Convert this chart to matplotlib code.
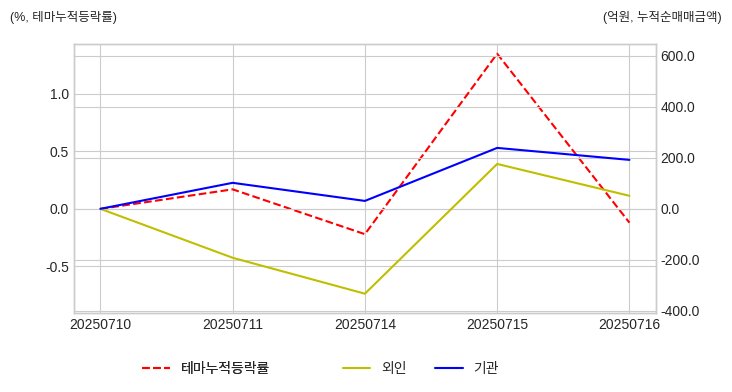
import matplotlib
matplotlib.use('Agg')
import matplotlib.pyplot as plt
from matplotlib.ticker import FormatStrFormatter

dates = ['20250710', '20250711', '20250714', '20250715', '20250716']
theme_ret = [0.0, 0.17, -0.22, 1.35, -0.12]
foreign = [0.0, -192.0, -333.0, 176.0, 51.0]
institution = [0.0, 102.0, 31.0, 239.0, 192.0]

plt.style.use('seaborn-v0_8-whitegrid')
plt.rcParams['font.family'] = ['Liberation Sans', 'Noto Sans CJK KR', 'DejaVu Sans']
plt.rcParams['axes.unicode_minus'] = False

fig, ax1 = plt.subplots(figsize=(7.32, 3.92), dpi=100)
fig.subplots_adjust(left=0.101, right=0.896, top=0.888, bottom=0.202)

x = range(len(dates))
l1, = ax1.plot(x, theme_ret, color='red', linestyle='--', linewidth=1.5, label='테마누적등락률')
ax1.set_ylim(-0.904, 1.435)
ax1.set_xlim(-0.2, 4.2)
ax1.set_yticks([-0.5, 0.0, 0.5, 1.0])
ax1.yaxis.set_major_formatter(FormatStrFormatter('%.1f'))
ax1.set_xticks(list(x))
ax1.set_xticklabels(dates)

ax2 = ax1.twinx()
l2, = ax2.plot(x, foreign, color='#bfbf00', linewidth=1.5, label='외인')
l3, = ax2.plot(x, institution, color='blue', linewidth=1.5, label='기관')
ax2.set_ylim(-408, 647)
ax2.set_yticks([-400, -200, 0, 200, 400, 600])
ax2.yaxis.set_major_formatter(FormatStrFormatter('%.1f'))

for ax in (ax1, ax2):
    ax.tick_params(labelsize=10, colors='#262626')
    for s in ax.spines.values():
        s.set_color('#cccccc')
        s.set_visible(True)

fig.text(0.013, 0.955, '(%, 테마누적등락률)', fontsize=9, color='#262626', ha='left', va='center')
fig.text(0.986, 0.955, '(억원, 누적순매매금액)', fontsize=9, color='#262626', ha='right', va='center')

leg1 = fig.legend(handles=[l1], loc='center', bbox_to_anchor=(0.282, 0.059),
                  frameon=False, fontsize=10)
fig.add_artist(leg1)
fig.legend(handles=[l2, l3], loc='center', bbox_to_anchor=(0.575, 0.059), ncol=2,
           frameon=False, fontsize=10)

fig.savefig('out.png', dpi=100)
